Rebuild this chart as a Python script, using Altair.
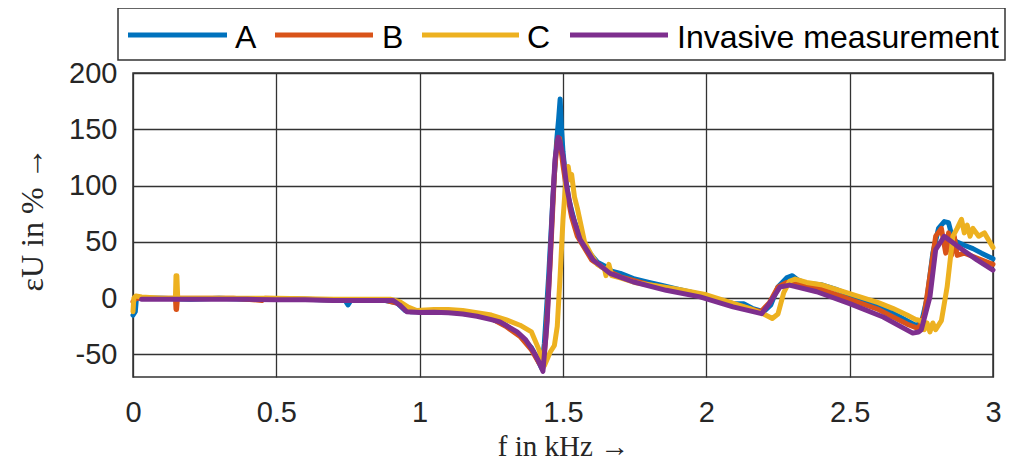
import altair as alt
import pandas as pd

a_x = [0.0, 0.008, 0.012, 0.1, 0.2, 0.3, 0.4, 0.5, 0.6, 0.74, 0.75, 0.76, 0.88, 0.92, 0.95, 0.97, 1.0, 1.1, 1.2, 1.25, 1.3, 1.35, 1.39, 1.41, 1.425, 1.435, 1.45, 1.465, 1.478, 1.485, 1.49, 1.495, 1.5, 1.51, 1.52, 1.54, 1.56, 1.58, 1.6, 1.62, 1.65, 1.67, 1.7, 1.72, 1.75, 1.8, 1.85, 1.9, 1.95, 2.0, 2.05, 2.1, 2.13, 2.16, 2.2, 2.225, 2.25, 2.28, 2.3, 2.32, 2.35, 2.4, 2.45, 2.5, 2.55, 2.6, 2.65, 2.7, 2.73, 2.75, 2.77, 2.79, 2.81, 2.83, 2.845, 2.86, 2.875, 2.9, 2.93, 2.96, 3.0]
a_y = [-15, -12, 0, 0, -1, 0, -1, -1, -1, -2, -6, -2, -2, -4, -11, -12, -12, -12, -15, -18, -24, -33, -44, -54, -62, -40, 20, 90, 140, 160, 177, 150, 130, 105, 88, 68, 55, 45, 38, 32, 28, 24, 22, 20, 17, 14, 11, 8, 5, 2, -2, -5, -5, -9, -12, -6, 10, 18, 20, 16, 13, 12, 8, 3, -2, -7, -13, -20, -24, -22, 0, 40, 62, 68, 67, 52, 50, 47, 44, 40, 35]

b_x = [0.0, 0.01, 0.1, 0.148, 0.15, 0.152, 0.155, 0.2, 0.35, 0.45, 0.46, 0.6, 0.8, 0.88, 0.93, 0.96, 1.0, 1.1, 1.2, 1.25, 1.3, 1.35, 1.39, 1.415, 1.43, 1.44, 1.455, 1.47, 1.48, 1.488, 1.5, 1.515, 1.53, 1.55, 1.6, 1.65, 1.7, 1.8, 1.9, 2.0, 2.1, 2.19, 2.22, 2.25, 2.28, 2.32, 2.4, 2.5, 2.6, 2.7, 2.74, 2.76, 2.78, 2.8, 2.82, 2.835, 2.845, 2.855, 2.865, 2.875, 2.9, 2.95, 3.0]
b_y = [-3, 0, 0, 0, -10, -10, 0, 0, 0, -2, 0, -1, -2, -2, -5, -11, -11, -12, -15, -18, -25, -34, -46, -57, -62, -35, 30, 110, 140, 142, 118, 92, 72, 55, 34, 25, 19, 12, 7, 1, -6, -12, -4, 10, 14, 12, 8, -1, -10, -23, -27, -15, 20, 55, 62, 40, 58, 38, 55, 38, 40, 35, 30]

c_x = [0.0, 0.003, 0.01, 0.03, 0.1, 0.148, 0.15, 0.153, 0.156, 0.3, 0.5, 0.7, 0.85, 0.9, 0.93, 0.96, 0.99, 1.05, 1.1, 1.15, 1.2, 1.25, 1.3, 1.35, 1.39, 1.415, 1.435, 1.455, 1.47, 1.48, 1.49, 1.5, 1.51, 1.518, 1.525, 1.53, 1.54, 1.55, 1.56, 1.575, 1.6, 1.62, 1.645, 1.65, 1.66, 1.67, 1.7, 1.75, 1.8, 1.9, 2.0, 2.1, 2.15, 2.2, 2.23, 2.25, 2.27, 2.29, 2.31, 2.35, 2.4, 2.45, 2.5, 2.55, 2.6, 2.65, 2.7, 2.73, 2.75, 2.76, 2.77, 2.78, 2.79, 2.8, 2.82, 2.84, 2.86, 2.875, 2.89, 2.9, 2.91, 2.92, 2.93, 2.95, 2.97, 3.0]
c_y = [-12, 0, 2, 1, 0, 0, 20, 20, 0, 0, 0, -1, -1, -1, -3, -8, -11, -10, -10, -11, -13, -15, -19, -24, -30, -45, -60, -48, -42, -25, 20, 70, 105, 117, 105, 110, 90, 80, 68, 50, 38, 30, 26, 20, 30, 20, 18, 14, 12, 8, 3, -5, -9, -14, -18, -14, 5, 15, 17, 14, 12, 8, 4, 0, -4, -9, -15, -19, -20, -28, -22, -30, -22, -28, -20, 10, 55, 62, 70, 58, 65, 55, 62, 55, 58, 45]

inv_x = [0.03, 0.1, 0.2, 0.3, 0.4, 0.5, 0.6, 0.7, 0.8, 0.907, 0.93, 0.955, 1.0, 1.05, 1.1, 1.15, 1.2, 1.25, 1.28, 1.34, 1.37, 1.395, 1.415, 1.43, 1.445, 1.455, 1.465, 1.472, 1.483, 1.49, 1.5, 1.513, 1.53, 1.56, 1.605, 1.664, 1.744, 1.86, 1.978, 2.093, 2.193, 2.22, 2.257, 2.29, 2.385, 2.5, 2.617, 2.72, 2.74, 2.75, 2.78, 2.8, 2.83, 2.885, 2.944, 3.0]
inv_y = [-1, -1, -1, -1, -1, -1.5, -1.5, -2, -2, -2, -6, -12, -12.8, -12.5, -13, -14, -16, -19, -21, -30, -37, -46.5, -56, -65, -20, 34, 90, 123, 143, 138, 126, 99, 76, 52, 34, 22, 14.6, 7, 1.2, -7.7, -13.7, -4.8, 10, 11.6, 5.7, -4.8, -16.7, -31, -30, -28, 1.2, 43, 55, 44.6, 34, 25]

names = ["A", "B", "C", "Invasive measurement"]
colors = ["#0072BD", "#D95319", "#EDB120", "#7E2F8E"]
x_ticks = [0, 0.5, 1, 1.5, 2, 2.5, 3]
y_ticks = [-50, 0, 50, 100, 150, 200]

rows = []
for name, xs, ys in zip(names, [a_x, b_x, c_x, inv_x], [a_y, b_y, c_y, inv_y]):
    for xv, yv in zip(xs, ys):
        rows.append({"f": xv, "e": yv, "series": name})
df = pd.DataFrame(rows)

lines = alt.Chart(df).mark_line(strokeWidth=5, strokeJoin="round", strokeCap="round").encode(
    x=alt.X("f:Q", scale=alt.Scale(domain=[0, 3], nice=False),
            axis=alt.Axis(values=x_ticks, title="f in kHz →", labelExpr="'' + datum.value",
                          labelPadding=21, labelFlush=False, titleBaseline="alphabetic",
                          titleY=78, titleX=430, titleAlign="center", titleFontSize=29)),
    y=alt.Y("e:Q", scale=alt.Scale(domain=[-70, 200], nice=False),
            axis=alt.Axis(values=y_ticks, title="εU in % →", labelExpr="'' + datum.value",
                          labelPadding=16, labelFlush=False, titleBaseline="alphabetic",
                          titleX=-91, titleY=146, titleAlign="center", titleAngle=270)),
    color=alt.Color("series:N", scale=alt.Scale(domain=names, range=colors),
                    sort=names, legend=None),
    order=alt.Order("f:Q"),
)

# hand-drawn legend (layout positions in pixels relative to the plot area)
legend_box = alt.Chart(pd.DataFrame({"k": [0]})).mark_rect(
    fill="white", stroke="#333333", strokeWidth=1.5
).encode(x=alt.value(-15), x2=alt.value(872), y=alt.value(-65), y2=alt.value(-13))

slots = [(-5, 94, 102), (142, 240, 249), (289, 386, 394), (437, 535, 544)]
legend_layers = [legend_box]
for name, col, (x1, x2, lx) in zip(names, colors, slots):
    d = pd.DataFrame({"s": [name]})
    legend_layers.append(
        alt.Chart(d).mark_rule(color=col, strokeWidth=5).encode(
            x=alt.value(x1), x2=alt.value(x2), y=alt.value(-38))
    )
    legend_layers.append(
        alt.Chart(d).mark_text(align="left", baseline="alphabetic", font="Liberation Sans",
                               fontSize=32, color="#000000").encode(
            x=alt.value(lx), y=alt.value(-25), text="s:N")
    )

chart = alt.layer(lines, *legend_layers).properties(
    width=860, height=304,
    autosize=alt.AutoSizeParams(type="none"),
    padding={"left": 125, "top": 65, "right": 15, "bottom": 84},
).configure_view(
    stroke="#333333", strokeWidth=1.5
).configure_axis(
    grid=True, gridColor="#333333", gridWidth=1.3, gridOpacity=1,
    domain=False, ticks=False,
    labelFont="Liberation Sans", labelFontSize=29, labelColor="#262626",
    titleFont="Liberation Serif", titleFontSize=32, titleFontWeight="normal", titleColor="#262626",
)

chart.save("out.html", embed_options={"renderer": "svg", "actions": False})
